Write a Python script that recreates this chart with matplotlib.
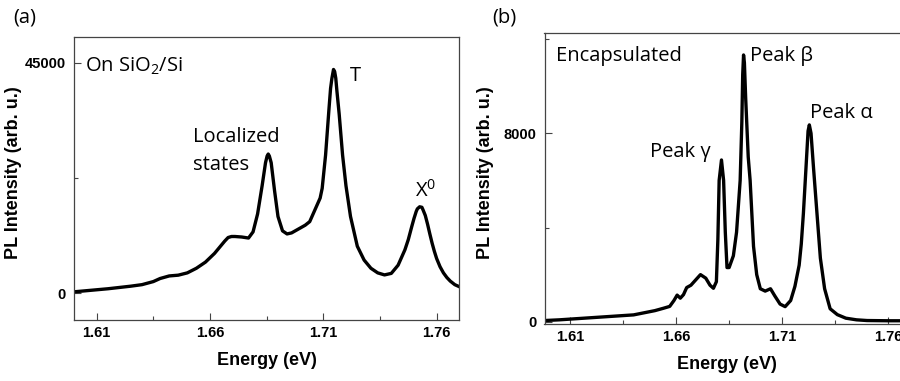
import matplotlib
matplotlib.use("Agg")
import matplotlib.pyplot as plt
from matplotlib.ticker import MultipleLocator, FixedLocator

# ---------------- data ----------------
energy_a = [1.600, 1.605, 1.610, 1.615, 1.620, 1.625, 1.630, 1.635, 1.638, 1.642,
            1.646, 1.650, 1.654, 1.658, 1.662, 1.665, 1.6665, 1.668, 1.6695, 1.671,
            1.6725, 1.674, 1.677, 1.679, 1.681, 1.683, 1.6845, 1.6852, 1.6857, 1.6862,
            1.687, 1.6885, 1.690, 1.692, 1.694, 1.696, 1.698, 1.700, 1.702, 1.704,
            1.706, 1.7086, 1.7095, 1.711, 1.7125, 1.7132, 1.7138, 1.7145, 1.7150, 1.7155,
            1.716, 1.717, 1.7185, 1.720, 1.722, 1.725, 1.728, 1.731, 1.734, 1.737,
            1.740, 1.743, 1.746, 1.7475, 1.749, 1.750, 1.751, 1.7515, 1.7525, 1.7535,
            1.754, 1.755, 1.756, 1.757, 1.758, 1.759, 1.760, 1.7615, 1.763, 1.7645,
            1.766, 1.768, 1.770]
intensity_a = [300, 500, 700, 900, 1150, 1400, 1700, 2300, 2900, 3400,
               3550, 4000, 4900, 6100, 7800, 9400, 10200, 10900, 11100, 11100,
               11050, 11000, 10800, 12000, 15500, 21000, 25500, 26800, 27200, 26800,
               25500, 20000, 15000, 12200, 11600, 11800, 12300, 12800, 13300, 14000,
               16000, 18600, 20500, 27000, 36000, 40000, 42000, 43700, 43300, 42000,
               39500, 35000, 27000, 21000, 15000, 9200, 6500, 4900, 4000, 3600,
               3900, 5500, 8500, 10500, 13000, 14600, 16000, 16500, 16900, 16800,
               16300, 15200, 13500, 11600, 9800, 8200, 6800, 5200, 4000, 3100,
               2400, 1700, 1300]

energy_b = [1.598, 1.605, 1.610, 1.615, 1.620, 1.625, 1.630, 1.635, 1.640, 1.645,
            1.650, 1.654, 1.657, 1.659, 1.6605, 1.662, 1.6635, 1.665, 1.667, 1.669,
            1.6715, 1.674, 1.676, 1.6776, 1.679, 1.6797, 1.6803, 1.6814, 1.6824, 1.6832,
            1.684, 1.685, 1.687, 1.6885, 1.6902, 1.691, 1.6914, 1.6918, 1.6922, 1.6928,
            1.694, 1.6949, 1.6965, 1.698, 1.6997, 1.702, 1.7045, 1.7065, 1.709, 1.7114,
            1.714, 1.716, 1.718, 1.719, 1.720, 1.7212, 1.7222, 1.7228, 1.7236, 1.7248,
            1.7264, 1.728, 1.730, 1.7326, 1.736, 1.740, 1.745, 1.750, 1.760, 1.770]
intensity_b = [50, 80, 110, 140, 170, 200, 230, 260, 290, 380,
               470, 570, 650, 900, 1130, 1000, 1150, 1450, 1550, 1750,
               2000, 1850, 1550, 1420, 1700, 3500, 6000, 6870, 6000, 3800,
               2300, 2300, 2800, 3800, 6000, 8500, 10500, 11330, 11000, 9500,
               7000, 6000, 3200, 2000, 1400, 1300, 1400, 1100, 750, 640,
               900, 1500, 2400, 3300, 4600, 6500, 8100, 8360, 8000, 6500,
               4600, 2700, 1400, 550, 300, 150, 80, 50, 40, 40]

xticks = [1.61, 1.66, 1.71, 1.76]
xtick_labels = ["1.61", "1.66", "1.71", "1.76"]
yticks_a = [0, 45000]
yticks_b = [0, 8000]

# ---------------- figure ----------------
fig = plt.figure(figsize=(9.0, 3.81), dpi=100)
W, H = 900.0, 381.0

def axes_px(l, t, r, b):
    return fig.add_axes([l / W, 1 - b / H, (r - l) / W, (b - t) / H])

ax_a = axes_px(74, 36.7, 459.3, 320)
ax_b = axes_px(544.5, 33.3, 909.5, 324.3)

tick_font = dict(family="Liberation Sans", weight="bold", size=10.5)
label_font = dict(family="Liberation Sans", weight="bold", size=13)
ann_family = ["Open Sans", "DejaVu Sans"]
ann_size = 14.5

plt.rcParams["mathtext.fontset"] = "custom"
plt.rcParams["mathtext.rm"] = "Open Sans"
plt.rcParams["mathtext.it"] = "Open Sans"

for ax, en, inten, yt, ylim, xlim, ymin in [
        (ax_a, energy_a, intensity_a, yticks_a, (-5200, 50100), (1.600, 1.770), 22500),
        (ax_b, energy_b, intensity_b, yticks_b, (-110, 12250), (1.598, 1.770), 4000)]:
    ax.plot(en, inten, color="black", lw=2.4, solid_joinstyle="round")
    ax.set_xlim(*xlim)
    ax.set_ylim(*ylim)
    ax.xaxis.set_major_locator(FixedLocator(xticks))
    ax.set_xticklabels(xtick_labels, **tick_font)
    ax.xaxis.set_minor_locator(FixedLocator([1.635, 1.685, 1.735]))
    ax.yaxis.set_major_locator(FixedLocator(yt))
    ax.set_yticklabels([str(v) for v in yt], **tick_font)
    ax.yaxis.set_minor_locator(MultipleLocator(ymin))
    ax.tick_params(which="major", direction="in", length=5, width=0.8, color="#444444")
    ax.tick_params(which="minor", direction="in", length=3, width=0.8, color="#444444")
    ax.tick_params(axis="x", which="major", pad=4)
    ax.tick_params(axis="y", which="major", pad=6)
    for s in ax.spines.values():
        s.set_color("#444444")
        s.set_linewidth(0.9)
    ax.set_xlabel("Energy (eV)", **label_font, labelpad=9)
    ax.set_ylabel("PL Intensity (arb. u.)", **label_font)

ax_a.yaxis.set_label_coords(-0.135, 0.52)
ax_b.yaxis.set_label_coords(-0.138, 0.52)

# annotations panel (a)
ax_a.text(1.6049, 43360, "On SiO$_2$/Si", family=ann_family, size=ann_size, va="baseline")
ax_a.text(1.6526, 29470, "Localized", family=ann_family, size=ann_size, va="baseline")
ax_a.text(1.6526, 23990, "states", family=ann_family, size=ann_size, va="baseline")
ax_a.text(1.7219, 41540, "T", family=ann_family, size=ann_size, va="baseline")
ax_a.text(1.7506, 18900, "X$^0$", family=ann_family, size=ann_size, va="baseline")

# annotations panel (b)
ax_b.text(1.6034, 11075, "Encapsulated", family=ann_family, size=ann_size, va="baseline")
ax_b.text(1.6949, 11075, "Peak β", family=ann_family, size=ann_size, va="baseline")
ax_b.text(1.7232, 8640, "Peak α", family=ann_family, size=ann_size, va="baseline")
ax_b.text(1.6478, 7010, "Peak γ", family=ann_family, size=ann_size, va="baseline")

fig.text(13 / W, 1 - 17 / H, "(a)", family=ann_family, size=ann_size, va="center", ha="left")
fig.text(492 / W, 1 - 17 / H, "(b)", family=ann_family, size=ann_size, va="center", ha="left")

fig.savefig("out.png", dpi=100)
